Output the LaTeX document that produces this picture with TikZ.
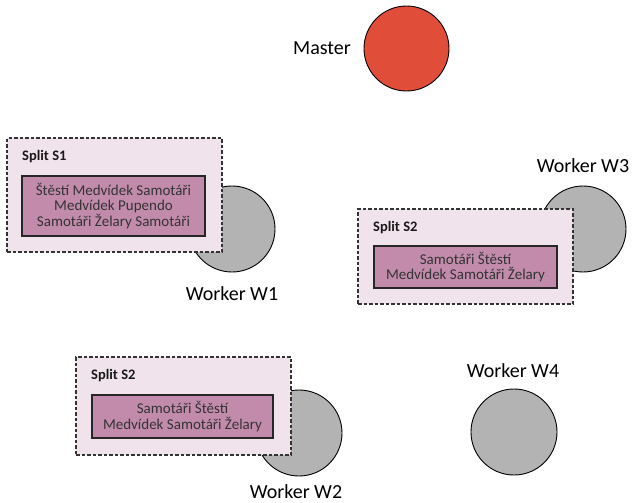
\documentclass[tikz,border=0pt]{standalone}
\usepackage{fontspec}
\setmainfont{Carlito}
\begin{document}
\begin{tikzpicture}[x=1pt,y=-1pt,
  worker/.style={circle,draw=black,line width=0.9pt,fill=workergray,minimum size=86pt,inner sep=0pt},
  master/.style={circle,draw=black,line width=0.9pt,fill=masterred,minimum size=85pt,inner sep=0pt},
  splitbox/.style={rectangle,draw=black!80,dashed,dash pattern=on 3.5pt off 2pt,line width=1.1pt,fill=splitpink,inner sep=0pt,minimum width=215pt},
  databox/.style={rectangle,draw=black!85,line width=1.1pt,fill=datamauve,inner sep=0pt,minimum width=183pt,align=center,font=\fontsize{15}{15.5}\selectfont,text=black!80},
  splitlabel/.style={anchor=west,inner sep=0pt,font=\fontsize{14.5}{16}\selectfont\bfseries,text=black!90},
  wlabel/.style={inner sep=0pt,font=\fontsize{20}{22}\selectfont,text=black}
]
\definecolor{workergray}{HTML}{B3B3B3}
\definecolor{masterred}{HTML}{E04E39}
\definecolor{splitpink}{HTML}{F0E3EC}
\definecolor{datamauve}{HTML}{C28BAC}
\useasboundingbox (0,0) rectangle (635,503);

% Master
\node[master] (m) at (406.5,48.5) {};
\node[wlabel] (ml) at (322,48) {Master};

% Workers
\node[worker] (w1) at (232,229) {};
\node[wlabel] (w1l) at (232,294) {Worker W1};
\node[worker] (w3) at (583,229) {};
\node[wlabel] (w3l) at (583,166) {Worker W3};
\node[worker] (w2) at (299,433) {};
\node[wlabel] (w2l) at (296,492) {Worker W2};
\node[worker] (w4) at (514,432) {};
\node[wlabel] (w4l) at (513,371) {Worker W4};

% Split S1
\node[splitbox,minimum height=114pt] (s1) at (114.5,195) {};
\node[splitlabel] (s1l) at (22,157) {Split S1};
\node[databox,minimum height=60pt] (d1) at (113.5,206) {Štěstí Medvídek Samotáři\\Medvídek Pupendo\\Samotáři Želary Samotáři};

% Split S2 (right)
\node[splitbox,minimum height=95pt] (s2a) at (465.5,256.5) {};
\node[splitlabel] (s2al) at (373,228) {Split S2};
\node[databox,minimum height=42pt] (d2a) at (465.5,267) {Samotáři Štěstí\\Medvídek Samotáři Želary};

% Split S2 (bottom)
\node[splitbox,minimum height=98pt] (s2b) at (183.5,406) {};
\node[splitlabel] (s2bl) at (91,376) {Split S2};
\node[databox,minimum height=43pt,minimum width=181pt] (d2b) at (182.5,416.5) {Samotáři Štěstí\\Medvídek Samotáři Želary};
\end{tikzpicture}
\end{document}
